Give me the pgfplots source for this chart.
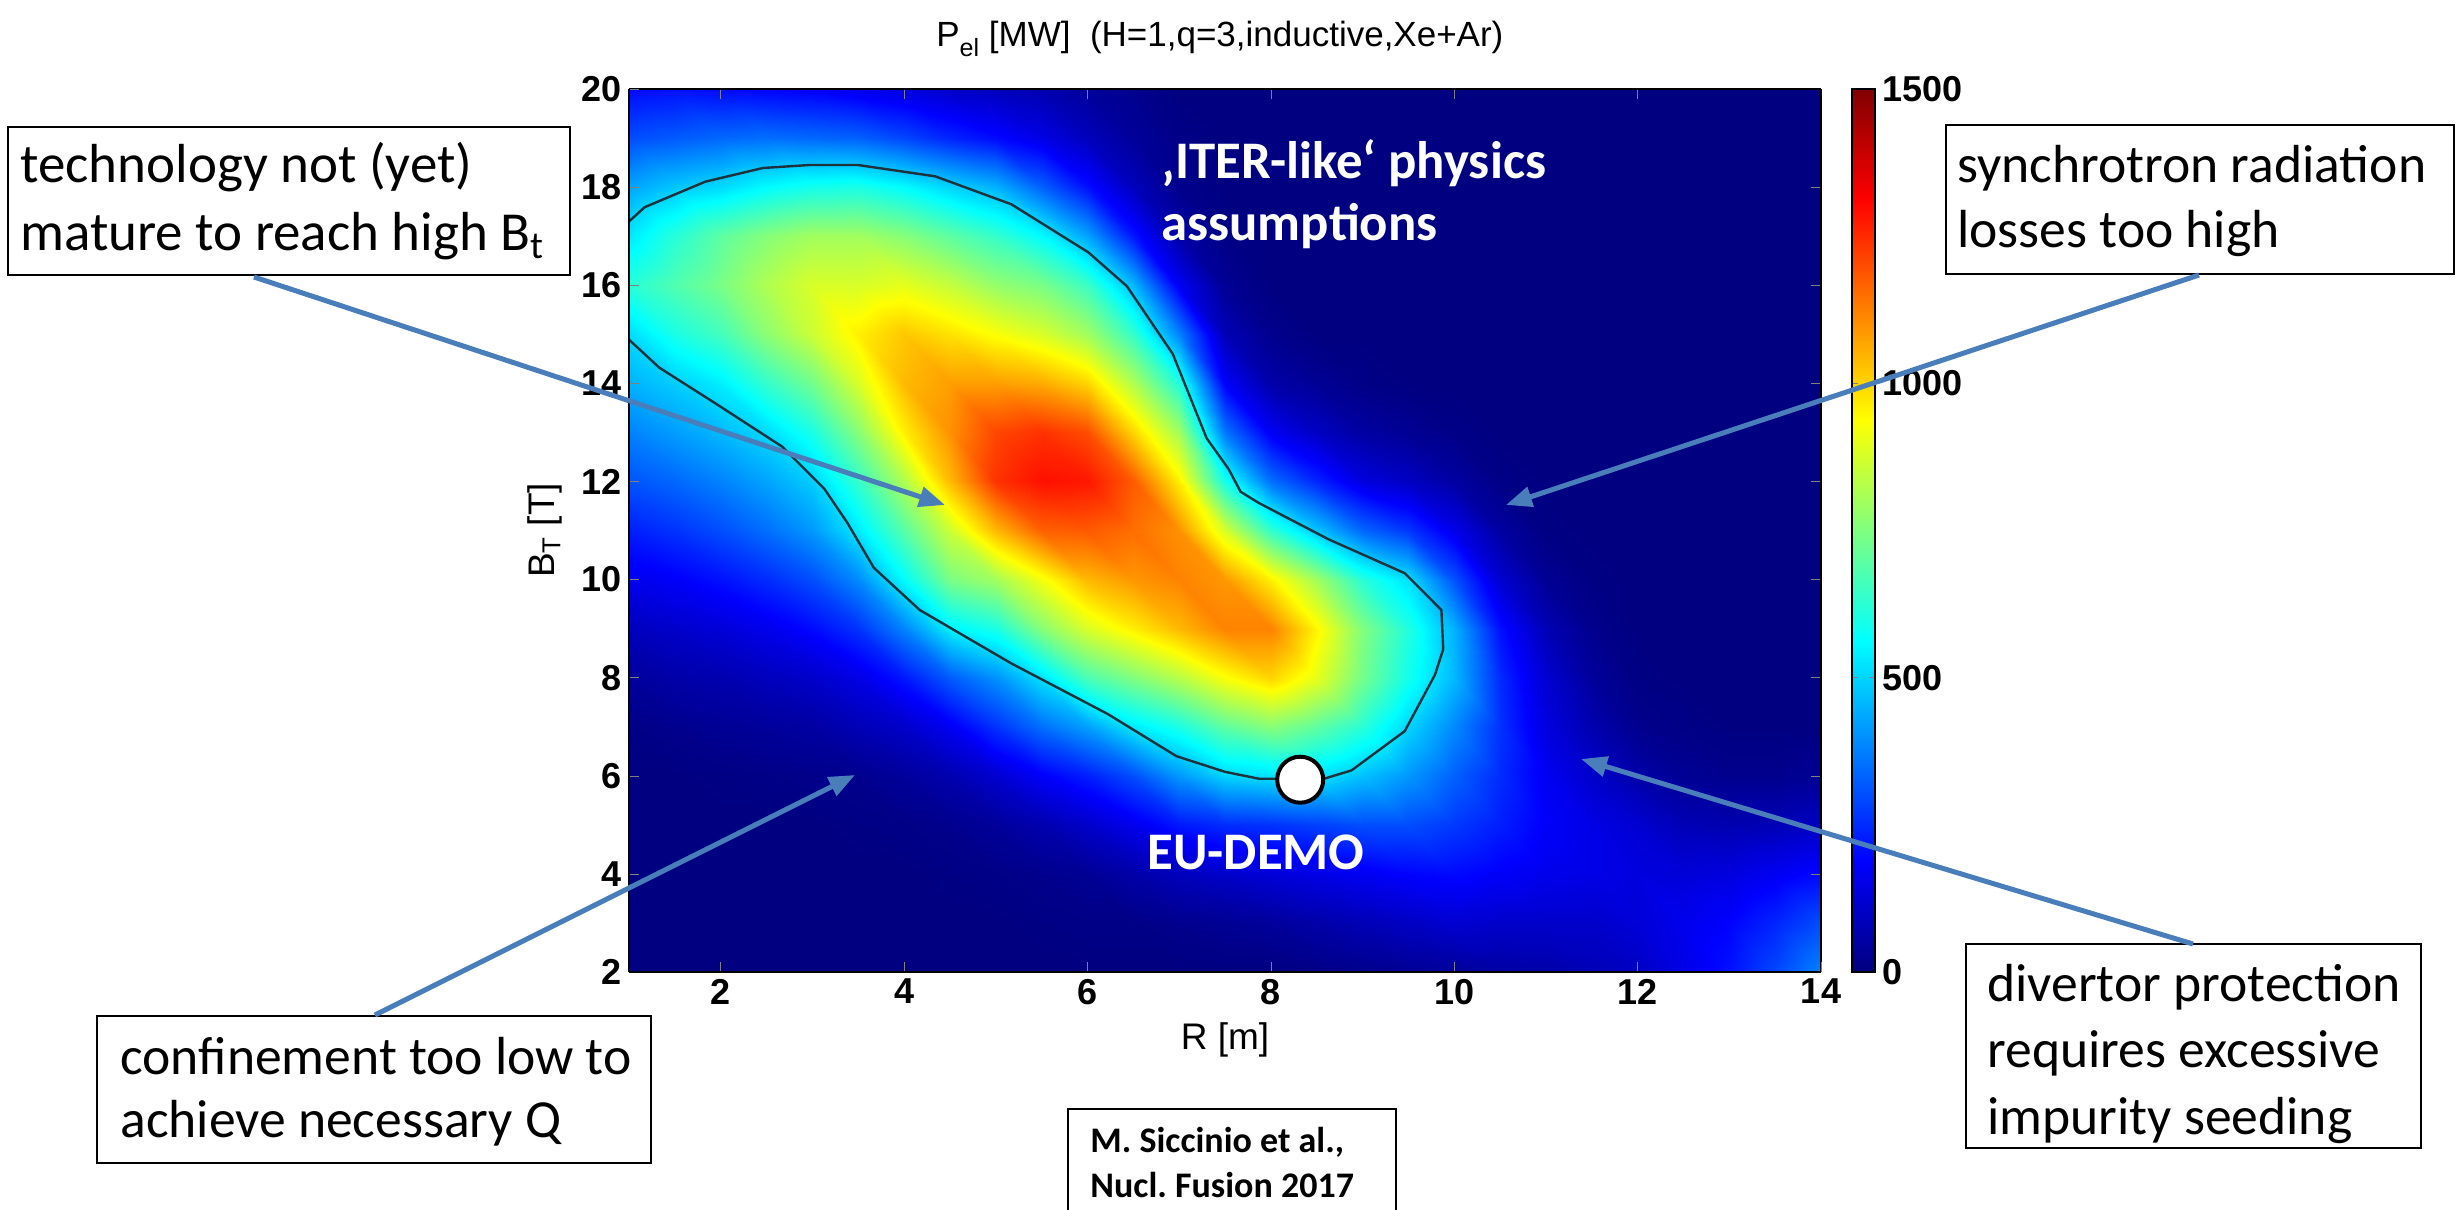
\documentclass[border=0pt]{standalone}
\usepackage{fontspec}
\setmainfont{Liberation Sans}
\newfontfamily\calibri{Carlito}
\usepackage{pgfplots}
\pgfplotsset{compat=1.18}
\usetikzlibrary{arrows.meta}
\pgfkeys{/pgf/number format/assume math mode=true, /pgf/number format/1000 sep={}}
\definecolor{arrowblue}{RGB}{74,126,187}
\definecolor{contourline}{RGB}{30,50,60}

\newcommand{\titlefont}{\fontsize{17.5}{17.5}\selectfont}
\newcommand{\labfont}{\fontsize{18.5}{18.5}\selectfont}
\newcommand{\tickfont}{\fontsize{18}{18}\selectfont\bfseries}
\newcommand{\mapfont}{\calibri\fontsize{26.4}{26.4}\selectfont\bfseries}
\newcommand{\boxfont}{\calibri\fontsize{26.8}{26.8}\selectfont}

\begin{document}
\begin{tikzpicture}
\useasboundingbox (-314.5pt,-119pt) rectangle (915pt,486pt);
\begin{axis}[
  at={(0pt,0pt)}, anchor=south west,
  scale only axis, width=596pt, height=441.5pt,
  view={0}{90},
  xmin=1, xmax=14, ymin=2, ymax=20, zmin=0, zmax=1600,
  xtick={2,4,...,14}, ytick={2,4,...,20}, ztick=\empty,
  tick align=inside, major tick length=5pt,
  tick label style={font=\tickfont},
  axis line style={black, line width=0.7pt},
  colormap/jet,
  point meta min=0, point meta max=1500,
  colorbar,
  colorbar style={
    at={(parent axis.north east)}, anchor=north west, xshift=7pt,
    width=11.5pt,
    ytick={0,500,1000,1500},
    yticklabel style={font=\tickfont},
    tick align=inside, major tick length=3pt,
    axis line style={black, line width=0.6pt},
  },
  xlabel={R [m]},
  xlabel style={font=\labfont, at={(axis description cs:0.5,0)}, anchor=north, yshift=-25pt, inner sep=0pt},
  ylabel={B\textsubscript{T} [T]},
  ylabel style={font=\labfont, at={(axis description cs:-0.0705,0.5)}, anchor=center, inner sep=0pt},
]
% P_el over the (R, B_T) grid: one scanline per major radius, B_T = 2..20 T
\addplot3[surf, shader=interp, mesh/cols=19] coordinates {
(1,2,0) (1,3,0) (1,4,0) (1,5,0) (1,6,0) (1,7,10) (1,8,40) (1,9,90) (1,10,160) (1,11,230) (1,12,310) (1,13,380) (1,14,450) (1,15,510) (1,16,620) (1,17,530) (1,18,430) (1,19,300) (1,20,200)
(1.5,2,0) (1.5,3,0) (1.5,4,0) (1.5,5,0) (1.5,6,0) (1.5,7,20) (1.5,8,60) (1.5,9,110) (1.5,10,180) (1.5,11,260) (1.5,12,340) (1.5,13,420) (1.5,14,490) (1.5,15,600) (1.5,16,680) (1.5,17,620) (1.5,18,480) (1.5,19,320) (1.5,20,210)
(2,2,0) (2,3,0) (2,4,0) (2,5,0) (2,6,5) (2,7,30) (2,8,70) (2,9,130) (2,10,210) (2,11,300) (2,12,380) (2,13,460) (2,14,540) (2,15,660) (2,16,740) (2,17,700) (2,18,510) (2,19,340) (2,20,200)
(2.5,2,0) (2.5,3,0) (2.5,4,0) (2.5,5,0) (2.5,6,10) (2.5,7,40) (2.5,8,90) (2.5,9,160) (2.5,10,250) (2.5,11,350) (2.5,12,430) (2.5,13,510) (2.5,14,640) (2.5,15,770) (2.5,16,820) (2.5,17,760) (2.5,18,560) (2.5,19,350) (2.5,20,190)
(3,2,0) (3,3,0) (3,4,0) (3,5,0) (3,6,15) (3,7,50) (3,8,110) (3,9,200) (3,10,300) (3,11,410) (3,12,490) (3,13,600) (3,14,730) (3,15,860) (3,16,880) (3,17,800) (3,18,590) (3,19,340) (3,20,180)
(3.5,2,0) (3.5,3,0) (3.5,4,0) (3.5,5,5) (3.5,6,20) (3.5,7,80) (3.5,8,150) (3.5,9,260) (3.5,10,390) (3.5,11,530) (3.5,12,640) (3.5,13,760) (3.5,14,880) (3.5,15,960) (3.5,16,880) (3.5,17,800) (3.5,18,600) (3.5,19,330) (3.5,20,160)
(4,2,0) (4,3,0) (4,4,0) (4,5,10) (4,6,40) (4,7,110) (4,8,220) (4,9,380) (4,10,560) (4,11,690) (4,12,820) (4,13,960) (4,14,1040) (4,15,1020) (4,16,900) (4,17,760) (4,18,560) (4,19,290) (4,20,140)
(4.5,2,0) (4.5,3,0) (4.5,4,5) (4.5,5,20) (4.5,6,70) (4.5,7,170) (4.5,8,320) (4.5,9,540) (4.5,10,740) (4.5,11,860) (4.5,12,1040) (4.5,13,1100) (4.5,14,1080) (4.5,15,980) (4.5,16,850) (4.5,17,700) (4.5,18,500) (4.5,19,240) (4.5,20,110)
(5,2,0) (5,3,0) (5,4,10) (5,5,40) (5,6,120) (5,7,260) (5,8,400) (5,9,600) (5,10,800) (5,11,1040) (5,12,1240) (5,13,1210) (5,14,1080) (5,15,930) (5,16,780) (5,17,640) (5,18,450) (5,19,200) (5,20,90)
(5.5,2,0) (5.5,3,5) (5.5,4,20) (5.5,5,70) (5.5,6,180) (5.5,7,350) (5.5,8,520) (5.5,9,760) (5.5,10,920) (5.5,11,1170) (5.5,12,1290) (5.5,13,1240) (5.5,14,1060) (5.5,15,880) (5.5,16,740) (5.5,17,560) (5.5,18,330) (5.5,19,150) (5.5,20,70)
(6,2,0) (6,3,10) (6,4,30) (6,5,110) (6,6,230) (6,7,420) (6,8,670) (6,9,880) (6,10,1040) (6,11,1180) (6,12,1280) (6,13,1200) (6,14,1000) (6,15,800) (6,16,650) (6,17,430) (6,18,210) (6,19,90) (6,20,40)
(6.5,2,0) (6.5,3,10) (6.5,4,60) (6.5,5,160) (6.5,6,300) (6.5,7,530) (6.5,8,750) (6.5,9,960) (6.5,10,1090) (6.5,11,1150) (6.5,12,1180) (6.5,13,1000) (6.5,14,820) (6.5,15,640) (6.5,16,460) (6.5,17,220) (6.5,18,90) (6.5,19,40) (6.5,20,20)
(7,2,0) (7,3,20) (7,4,90) (7,5,220) (7,6,410) (7,7,600) (7,8,830) (7,9,1040) (7,10,1120) (7,11,1100) (7,12,960) (7,13,800) (7,14,610) (7,15,380) (7,16,170) (7,17,60) (7,18,20) (7,19,10) (7,20,0)
(7.5,2,0) (7.5,3,30) (7.5,4,110) (7.5,5,250) (7.5,6,500) (7.5,7,700) (7.5,8,930) (7.5,9,1120) (7.5,10,1090) (7.5,11,880) (7.5,12,590) (7.5,13,360) (7.5,14,180) (7.5,15,80) (7.5,16,30) (7.5,17,10) (7.5,18,0) (7.5,19,0) (7.5,20,0)
(8,2,0) (8,3,40) (8,4,130) (8,5,260) (8,6,520) (8,7,760) (8,8,1000) (8,9,1120) (8,10,960) (8,11,640) (8,12,350) (8,13,170) (8,14,60) (8,15,20) (8,16,0) (8,17,0) (8,18,0) (8,19,0) (8,20,0)
(8.5,2,10) (8.5,3,60) (8.5,4,150) (8.5,5,280) (8.5,6,520) (8.5,7,700) (8.5,8,900) (8.5,9,950) (8.5,10,800) (8.5,11,480) (8.5,12,240) (8.5,13,100) (8.5,14,30) (8.5,15,0) (8.5,16,0) (8.5,17,0) (8.5,18,0) (8.5,19,0) (8.5,20,0)
(9,2,20) (9,3,80) (9,4,170) (9,5,300) (9,6,470) (9,7,620) (9,8,730) (9,9,750) (9,10,620) (9,11,340) (9,12,140) (9,13,50) (9,14,10) (9,15,0) (9,16,0) (9,17,0) (9,18,0) (9,19,0) (9,20,0)
(9.5,2,30) (9.5,3,100) (9.5,4,190) (9.5,5,300) (9.5,6,410) (9.5,7,500) (9.5,8,590) (9.5,9,610) (9.5,10,520) (9.5,11,270) (9.5,12,100) (9.5,13,30) (9.5,14,0) (9.5,15,0) (9.5,16,0) (9.5,17,0) (9.5,18,0) (9.5,19,0) (9.5,20,0)
(10,2,40) (10,3,120) (10,4,200) (10,5,270) (10,6,330) (10,7,390) (10,8,460) (10,9,450) (10,10,310) (10,11,160) (10,12,50) (10,13,10) (10,14,0) (10,15,0) (10,16,0) (10,17,0) (10,18,0) (10,19,0) (10,20,0)
(10.5,2,50) (10.5,3,110) (10.5,4,180) (10.5,5,230) (10.5,6,250) (10.5,7,260) (10.5,8,250) (10.5,9,210) (10.5,10,120) (10.5,11,50) (10.5,12,10) (10.5,13,0) (10.5,14,0) (10.5,15,0) (10.5,16,0) (10.5,17,0) (10.5,18,0) (10.5,19,0) (10.5,20,0)
(11,2,60) (11,3,110) (11,4,160) (11,5,180) (11,6,170) (11,7,140) (11,8,120) (11,9,80) (11,10,30) (11,11,5) (11,12,0) (11,13,0) (11,14,0) (11,15,0) (11,16,0) (11,17,0) (11,18,0) (11,19,0) (11,20,0)
(11.5,2,80) (11.5,3,110) (11.5,4,150) (11.5,5,150) (11.5,6,110) (11.5,7,70) (11.5,8,40) (11.5,9,20) (11.5,10,5) (11.5,11,0) (11.5,12,0) (11.5,13,0) (11.5,14,0) (11.5,15,0) (11.5,16,0) (11.5,17,0) (11.5,18,0) (11.5,19,0) (11.5,20,0)
(12,2,100) (12,3,130) (12,4,140) (12,5,120) (12,6,60) (12,7,20) (12,8,5) (12,9,0) (12,10,0) (12,11,0) (12,12,0) (12,13,0) (12,14,0) (12,15,0) (12,16,0) (12,17,0) (12,18,0) (12,19,0) (12,20,0)
(12.5,2,150) (12.5,3,160) (12.5,4,130) (12.5,5,80) (12.5,6,30) (12.5,7,10) (12.5,8,0) (12.5,9,0) (12.5,10,0) (12.5,11,0) (12.5,12,0) (12.5,13,0) (12.5,14,0) (12.5,15,0) (12.5,16,0) (12.5,17,0) (12.5,18,0) (12.5,19,0) (12.5,20,0)
(13,2,210) (13,3,190) (13,4,140) (13,5,70) (13,6,20) (13,7,0) (13,8,0) (13,9,0) (13,10,0) (13,11,0) (13,12,0) (13,13,0) (13,14,0) (13,15,0) (13,16,0) (13,17,0) (13,18,0) (13,19,0) (13,20,0)
(13.5,2,290) (13.5,3,240) (13.5,4,170) (13.5,5,80) (13.5,6,20) (13.5,7,0) (13.5,8,0) (13.5,9,0) (13.5,10,0) (13.5,11,0) (13.5,12,0) (13.5,13,0) (13.5,14,0) (13.5,15,0) (13.5,16,0) (13.5,17,0) (13.5,18,0) (13.5,19,0) (13.5,20,0)
(14,2,380) (14,3,300) (14,4,200) (14,5,100) (14,6,30) (14,7,0) (14,8,0) (14,9,0) (14,10,0) (14,11,0) (14,12,0) (14,13,0) (14,14,0) (14,15,0) (14,16,0) (14,17,0) (14,18,0) (14,19,0) (14,20,0)
};
% 500 MW contour
\addplot3[contourline, line width=1.2pt, no marks] coordinates {
(1,17.30,1600) (1.17,17.59,1600) (1.83,18.11,1600) (2.46,18.39,1600) (2.96,18.45,1600) (3.50,18.45,1600) (4.34,18.22,1600) (5.17,17.65,1600) (6.01,16.67,1600) (6.43,15.98,1600) (6.93,14.60,1600) (7.30,12.88,1600) (7.54,12.25,1600) (7.67,11.79,1600) (7.87,11.56,1600) (8.63,10.82,1600) (9.46,10.13,1600) (9.86,9.38,1600) (9.88,8.58,1600) (9.79,8.06,1600) (9.46,6.91,1600) (8.88,6.11,1600) (8.58,5.94,1600) (7.87,5.94,1600) (7.50,6.08,1600) (6.97,6.40,1600) (6.22,7.26,1600) (5.17,8.29,1600) (4.17,9.38,1600) (3.67,10.24,1600) (3.38,11.16,1600) (3.13,11.85,1600) (2.67,12.71,1600) (1.96,13.57,1600) (1.33,14.32,1600) (1,14.89,1600)
};
% EU-DEMO design point
\addplot3[only marks, mark=*, mark size=11.5pt, mark options={fill=white, draw=black, line width=2pt}] coordinates {(8.32,5.92,1600)};
\end{axis}

% plot title
\node[anchor=base west, inner sep=0pt, font=\titlefont] at (153.5pt,462.5pt)
  {P\raisebox{-5pt}{\fontsize{12.5}{12.5}\selectfont el} [MW]\ \ (H=1,q=3,inductive,Xe+Ar)};

% labels inside the map
\node[anchor=base west, text=white, inner sep=0pt, font=\mapfont] at (266pt,396.5pt) {‚ITER-like‘ physics};
\node[anchor=base west, text=white, inner sep=0pt, font=\mapfont] at (266pt,365.5pt) {assumptions};
\node[anchor=base, text=white, inner sep=0pt, font=\mapfont] at (313.5pt,51pt) {EU-DEMO};

% callout boxes
\draw[black, line width=0.8pt, fill=white] (-310.5pt,348.5pt) rectangle (-29.5pt,422.5pt);
\node[anchor=base west, inner sep=0pt, font=\calibri\fontsize{27.5}{27.5}\selectfont] at (-304.5pt,394.5pt) {technology not (yet)};
\node[anchor=base west, inner sep=0pt, font=\calibri\fontsize{27.5}{27.5}\selectfont] at (-304.5pt,360.5pt) {mature to reach high B\textsubscript{t}};

\draw[black, line width=0.8pt, fill=white] (658.5pt,349pt) rectangle (912.5pt,423.5pt);
\node[anchor=base west, inner sep=0pt, font=\boxfont] at (664pt,394.5pt) {synchrotron radiation};
\node[anchor=base west, inner sep=0pt, font=\boxfont] at (664pt,362pt) {losses too high};

\draw[black, line width=0.8pt, fill=white] (-266pt,-95.5pt) rectangle (11pt,-22pt);
\node[anchor=base west, inner sep=0pt, font=\boxfont] at (-254.5pt,-51.5pt) {confinement too low to};
\node[anchor=base west, inner sep=0pt, font=\boxfont] at (-254.5pt,-83pt) {achieve necessary Q};

\draw[black, line width=0.8pt, fill=white] (668.5pt,-88pt) rectangle (896pt,14pt);
\node[anchor=base west, inner sep=0pt, font=\boxfont] at (679pt,-15pt) {divertor protection};
\node[anchor=base west, inner sep=0pt, font=\boxfont] at (679pt,-48pt) {requires excessive};
\node[anchor=base west, inner sep=0pt, font=\boxfont] at (679pt,-81.5pt) {impurity seeding};

\draw[black, line width=0.8pt, fill=white] (219.5pt,-130pt) rectangle (383.5pt,-68.5pt);
\node[anchor=base west, inner sep=0pt, font=\calibri\fontsize{18}{18}\selectfont\bfseries] at (230.5pt,-90.5pt) {M.\ Siccinio et al.,};
\node[anchor=base west, inner sep=0pt, font=\calibri\fontsize{18}{18}\selectfont\bfseries] at (230.5pt,-113pt) {Nucl.\ Fusion 2017};

% pointers
\begin{scope}[arrowblue, line width=2.5pt, -{Triangle[length=13pt,width=10pt]}]
\draw (-187.5pt,347.5pt) -- (158pt,233.5pt);
\draw (785pt,348.5pt) -- (438.5pt,233.5pt);
\draw (-127pt,-21.5pt) -- (113pt,98.5pt);
\draw (782pt,14pt) -- (476pt,106.5pt);
\end{scope}
\end{tikzpicture}
\end{document}
